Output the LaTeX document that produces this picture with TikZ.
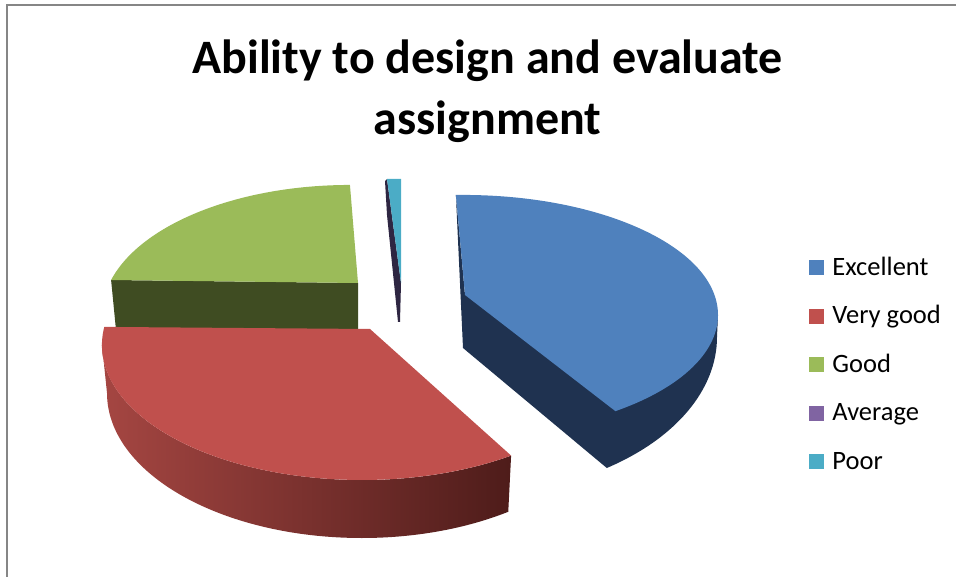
\documentclass[tikz,border=0pt]{standalone}
\usepackage{fontspec}
\setmainfont{Carlito}
\usetikzlibrary{positioning}
\definecolor{excTop}{RGB}{79,129,189}
\definecolor{excSide}{RGB}{31,50,80}
\definecolor{vgTop}{RGB}{192,80,77}
\definecolor{vgLight}{RGB}{165,70,66}
\definecolor{vgDark}{RGB}{78,28,26}
\definecolor{gdTop}{RGB}{155,187,89}
\definecolor{gdSide}{RGB}{63,76,34}
\definecolor{avTop}{RGB}{128,100,162}
\definecolor{avSide}{RGB}{46,38,66}
\definecolor{prTop}{RGB}{75,172,198}
\definecolor{frame}{RGB}{134,134,134}

\begin{document}
\begin{tikzpicture}[x=1pt,y=-1pt,
                    key/.style={minimum size=15pt,inner sep=0pt},
                    entry/.style={inner sep=0pt,text height=20pt,text depth=5pt,
                                  font=\fontsize{26.5}{30}\selectfont}]
  \useasboundingbox (0,0) rectangle (956,577);
  \draw[frame,line width=2pt] (7,577) -- (7,5) -- (956,5);

  \node[font=\bfseries\fontsize{48}{61}\selectfont,align=center] (title) at (487.5,91)
       {Ability to design and evaluate\\assignment};

  % Good
  \fill[gdSide] (111.1,280) -- (116,330) -- (358,330) -- (358,283) -- cycle;
  \fill[gdTop] (111.1,280) arc[start angle=-164.4,end angle=-90,x radius=248,y radius=130]
       -- (358,283) -- cycle;

  % Average, Poor
  \fill[avSide] (385,181) -- (387,179) -- (401,283) -- (400,322) -- (398,322) -- (387,215) -- cycle;
  \fill[prTop] (387,179) -- (401,179) -- (401,283) -- cycle;

  % Excellent
  \fill[excSide] (455.9,195) -- (463,348) -- (606.8,468)
       arc[start angle=56,end angle=0,x radius=250,y radius=158]
       -- (718,315) -- (465,295) -- cycle;
  \fill[excTop] (455.9,195) arc[start angle=-91.6,end angle=53.3,x radius=255,y radius=120]
       -- (465,295) -- cycle;

  % Very good
  \shade[left color=vgLight,right color=vgDark] (102,345) -- (107,393)
       arc[start angle=180,end angle=55,x radius=255,y radius=145]
       -- (511.1,455.6) arc[start angle=55,end angle=180,x radius=260,y radius=135] -- cycle;
  \fill[vgTop] (104.3,326.9) arc[start angle=187.7,end angle=55,x radius=260,y radius=135]
       -- (370,329) -- cycle;

  % legend
  \node[key,fill=excTop] (kExc) at (816.5,268) {};
  \node[key,fill=vgTop,below=33pt of kExc] (kVg) {};
  \node[key,fill=gdTop,below=33pt of kVg] (kGd) {};
  \node[key,fill=avTop,below=33pt of kGd] (kAv) {};
  \node[key,fill=prTop,below=33pt of kAv] (kPr) {};

  \node[entry,right=8pt of kExc] (tExc) {Excellent};
  \node[entry,right=8pt of kVg] (tVg) {Very good};
  \node[entry,right=8pt of kGd] (tGd) {Good};
  \node[entry,right=8pt of kAv] (tAv) {Average};
  \node[entry,right=8pt of kPr] (tPr) {Poor};
\end{tikzpicture}
\end{document}
